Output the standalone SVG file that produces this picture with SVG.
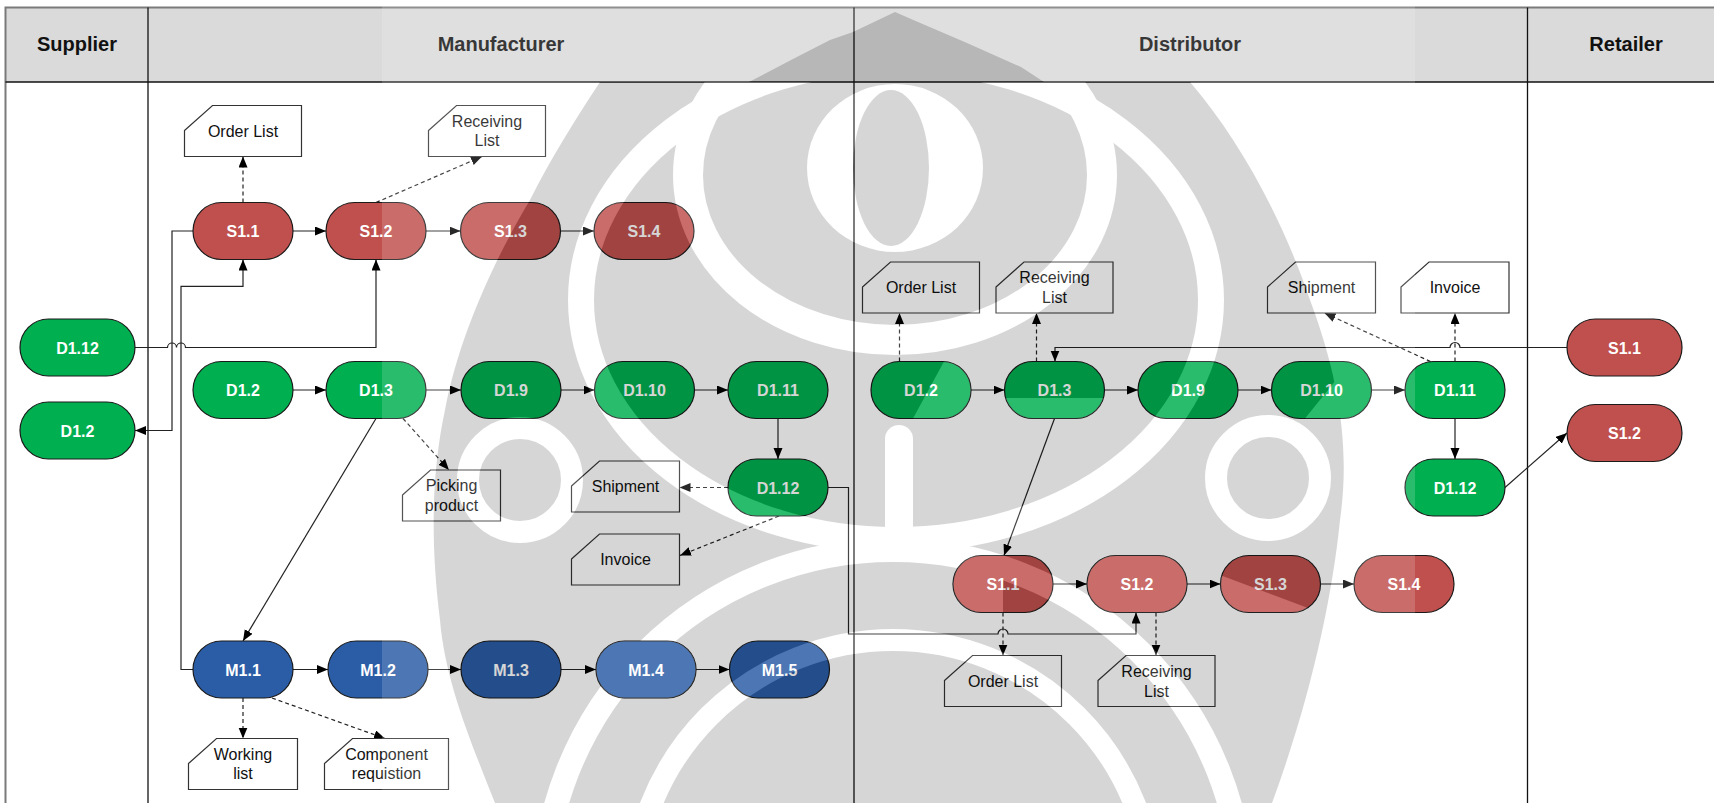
<svg xmlns="http://www.w3.org/2000/svg" width="1714" height="803" viewBox="0 0 1714 803">
  <style>
    .hdr { font-family: "Liberation Sans", Arial, sans-serif; font-size: 20px; font-weight: bold; fill: #111; text-anchor: middle; }
    .pill { stroke: #1a1a1a; stroke-width: 1.2; }
    .red { fill: #C0504D; }
    .green { fill: #00B050; }
    .blue { fill: #2B5DA6; }
    .lbl { font-family: "Liberation Sans", Arial, sans-serif; font-size: 16px; font-weight: bold; fill: #fff; text-anchor: middle; }
    .doc path { fill: #fff; stroke: #333; stroke-width: 1.2; }
    .doc text { font-family: "Liberation Sans", Arial, sans-serif; font-size: 16px; fill: #111; text-anchor: middle; }
    .lane { stroke: #111; stroke-width: 1.3; fill: none; }
    .conn path { fill: none; stroke: #222; stroke-width: 1.2; }
    .conn .dash { stroke-dasharray: 4 3; }
    .ink { fill: #000; }
    .hole { fill: #fff; }
    .band { fill: none; stroke: #fff; }
  </style>
  <defs>
    <marker id="arrow" markerUnits="userSpaceOnUse" markerWidth="12" markerHeight="10" refX="11" refY="4.5" orient="auto">
      <path d="M0,0 L11,4.5 L0,9 Z" fill="#000"/>
    </marker>
    <clipPath id="body-clip"><rect x="0" y="82" width="1714" height="721"/></clipPath>
    <clipPath id="c-dd12"><rect x="871" y="361.5" width="100" height="57" rx="28.5"/></clipPath>
    <clipPath id="c-dd13"><rect x="1004.5" y="361.5" width="100" height="57" rx="28.5"/></clipPath>
    <clipPath id="c-dd110"><rect x="1271.5" y="361.5" width="100" height="57" rx="28.5"/></clipPath>
    <clipPath id="c-ds11"><rect x="953" y="555.5" width="100" height="57" rx="28.5"/></clipPath>
    <clipPath id="c-ds13"><rect x="1220.5" y="555.5" width="100" height="57" rx="28.5"/></clipPath>
  </defs>

  <rect width="1714" height="803" fill="#fff"/>

  <!-- swimlane frame -->
  <g id="lanes">
    <rect x="5.5" y="7.5" width="1720" height="74.5" fill="#DADADA"/>
    <path d="M5.5 803 V7.5 H1714" stroke="#7a7a7a" stroke-width="2" fill="none"/>
    <path class="lane" d="M5.5 82 H1714"/>
    <path class="lane" d="M148 7.5 V803"/>
    <path class="lane" d="M854 7.5 V803"/>
    <path class="lane" d="M1527.5 7.5 V803"/>
    <text class="hdr" x="77" y="51">Supplier</text>
    <text class="hdr" x="501" y="51">Manufacturer</text>
    <text class="hdr" x="1190" y="51">Distributor</text>
    <text class="hdr" x="1626" y="51">Retailer</text>
  </g>

  <!-- connectors -->
  <g id="connectors" class="conn">
    <!-- manufacturer: supply -->
    <path d="M293 231 H326" marker-end="url(#arrow)"/>
    <path d="M426 231 H460.5" marker-end="url(#arrow)"/>
    <path d="M560.5 231 H594" marker-end="url(#arrow)"/>
    <path class="dash" d="M243 202.5 V156.5" marker-end="url(#arrow)"/>
    <path class="dash" d="M376 202.5 L482 156.5" marker-end="url(#arrow)"/>
    <!-- manufacturer: deliver -->
    <path d="M293 390 H326" marker-end="url(#arrow)"/>
    <path d="M426 390 H461" marker-end="url(#arrow)"/>
    <path d="M561 390 H594.5" marker-end="url(#arrow)"/>
    <path d="M694.5 390 H728" marker-end="url(#arrow)"/>
    <path d="M778 418.5 V459" marker-end="url(#arrow)"/>
    <path class="dash" d="M728 487.5 H679.5" marker-end="url(#arrow)"/>
    <path class="dash" d="M779 516 L680 555.5" marker-end="url(#arrow)"/>
    <path d="M376 418.5 L243 641" marker-end="url(#arrow)"/>
    <path class="dash" d="M403 418.5 L449 470" marker-end="url(#arrow)"/>
    <!-- manufacturer: make -->
    <path d="M293 669.5 H328" marker-end="url(#arrow)"/>
    <path d="M428 669.5 H461" marker-end="url(#arrow)"/>
    <path d="M561 669.5 H596" marker-end="url(#arrow)"/>
    <path d="M696 669.5 H729.5" marker-end="url(#arrow)"/>
    <path class="dash" d="M243 698 V738.5" marker-end="url(#arrow)"/>
    <path class="dash" d="M272 698 L385 738.5" marker-end="url(#arrow)"/>
    <!-- links between manufacturer and supplier -->
    <path d="M193 669.5 H181 V286.3 H243 V259.5" marker-end="url(#arrow)"/>
    <path d="M193 231 H172 V430.5 H135" marker-end="url(#arrow)"/>
    <path d="M135 347.5 H167.5 A4.5 4.5 0 0 1 176.5 347.5 A4.5 4.5 0 0 1 185.5 347.5 H376 V259.5" marker-end="url(#arrow)"/>
    <!-- distributor: deliver -->
    <path d="M971 390 H1004.5" marker-end="url(#arrow)"/>
    <path d="M1104.5 390 H1138" marker-end="url(#arrow)"/>
    <path d="M1238 390 H1271.5" marker-end="url(#arrow)"/>
    <path d="M1371.5 390 H1405" marker-end="url(#arrow)"/>
    <path class="dash" d="M899.5 361.5 V313" marker-end="url(#arrow)"/>
    <path class="dash" d="M1036.5 361.5 V313" marker-end="url(#arrow)"/>
    <path class="dash" d="M1430.5 361.5 L1324.5 313" marker-end="url(#arrow)"/>
    <path class="dash" d="M1455 361.5 V313" marker-end="url(#arrow)"/>
    <path d="M1567 347.5 H1460 A5 5 0 0 0 1450 347.5 H1055 V361.5" marker-end="url(#arrow)"/>
    <path d="M1455 418.5 V459" marker-end="url(#arrow)"/>
    <path d="M1505 487.5 L1567 433" marker-end="url(#arrow)"/>
    <path d="M1054.5 418.5 L1004 555.5" marker-end="url(#arrow)"/>
    <!-- distributor: supply -->
    <path d="M1053 584 H1087" marker-end="url(#arrow)"/>
    <path d="M1187 584 H1220.5" marker-end="url(#arrow)"/>
    <path d="M1320.5 584 H1354" marker-end="url(#arrow)"/>
    <path class="dash" d="M1003 612.5 V655.5" marker-end="url(#arrow)"/>
    <path class="dash" d="M1156 612.5 V655.5" marker-end="url(#arrow)"/>
    <path d="M827.5 487.5 H848.5 V634 H998 A5 5 0 0 1 1008 634 H1136 V612.5" marker-end="url(#arrow)"/>
  </g>

  <!-- supplier lane -->
  <g id="sup-d112"><rect class="pill green" x="20" y="319" width="115" height="57" rx="28.5"/><text class="lbl" x="77.5" y="353.5">D1.12</text></g>
  <g id="sup-d12"><rect class="pill green" x="20" y="402" width="115" height="57" rx="28.5"/><text class="lbl" x="77.5" y="436.5">D1.2</text></g>

  <!-- manufacturer lane -->
  <g id="man-s11"><rect class="pill red" x="193" y="202.5" width="100" height="57" rx="28.5"/><text class="lbl" x="243" y="237">S1.1</text></g>
  <g id="man-s12"><rect class="pill red" x="326" y="202.5" width="100" height="57" rx="28.5"/><text class="lbl" x="376" y="237">S1.2</text></g>
  <g id="man-s13"><rect class="pill red" x="460.5" y="202.5" width="100" height="57" rx="28.5"/><text class="lbl" x="510.5" y="237">S1.3</text></g>
  <g id="man-s14"><rect class="pill red" x="594" y="202.5" width="100" height="57" rx="28.5"/><text class="lbl" x="644" y="237">S1.4</text></g>

  <g id="man-d12"><rect class="pill green" x="193" y="361.5" width="100" height="57" rx="28.5"/><text class="lbl" x="243" y="396">D1.2</text></g>
  <g id="man-d13"><rect class="pill green" x="326" y="361.5" width="100" height="57" rx="28.5"/><text class="lbl" x="376" y="396">D1.3</text></g>
  <g id="man-d19"><rect class="pill green" x="461" y="361.5" width="100" height="57" rx="28.5"/><text class="lbl" x="511" y="396">D1.9</text></g>
  <g id="man-d110"><rect class="pill green" x="594.5" y="361.5" width="100" height="57" rx="28.5"/><text class="lbl" x="644.5" y="396">D1.10</text></g>
  <g id="man-d111"><rect class="pill green" x="728" y="361.5" width="100" height="57" rx="28.5"/><text class="lbl" x="778" y="396">D1.11</text></g>
  <g id="man-d112"><rect class="pill green" x="728" y="459" width="100" height="57" rx="28.5"/><text class="lbl" x="778" y="493.5">D1.12</text></g>

  <g id="man-m11"><rect class="pill blue" x="193" y="641" width="100" height="57" rx="28.5"/><text class="lbl" x="243" y="675.5">M1.1</text></g>
  <g id="man-m12"><rect class="pill blue" x="328" y="641" width="100" height="57" rx="28.5"/><text class="lbl" x="378" y="675.5">M1.2</text></g>
  <g id="man-m13"><rect class="pill blue" x="461" y="641" width="100" height="57" rx="28.5"/><text class="lbl" x="511" y="675.5">M1.3</text></g>
  <g id="man-m14"><rect class="pill blue" x="596" y="641" width="100" height="57" rx="28.5"/><text class="lbl" x="646" y="675.5">M1.4</text></g>
  <g id="man-m15"><rect class="pill blue" x="729.5" y="641" width="100" height="57" rx="28.5"/><text class="lbl" x="779.5" y="675.5">M1.5</text></g>

  <!-- manufacturer documents -->
  <g id="man-doc-order" class="doc"><path d="M184.5 130.5 L212.5 105.5 H301.5 V156.5 H184.5 Z"/><text x="243" y="136.5">Order List</text></g>
  <g id="man-doc-recv" class="doc"><path d="M428.5 130.5 L456.5 105.5 H545.5 V156.5 H428.5 Z"/><text x="487" y="126.5">Receiving</text><text x="487" y="146">List</text></g>
  <g id="man-doc-pick" class="doc"><path d="M402.5 495 L430.5 470 H500.5 V521 H402.5 Z"/><text x="451.5" y="491">Picking</text><text x="451.5" y="510.5">product</text></g>
  <g id="man-doc-ship" class="doc"><path d="M571.5 486 L599.5 461 H679.5 V512 H571.5 Z"/><text x="625.5" y="492">Shipment</text></g>
  <g id="man-doc-inv" class="doc"><path d="M571.5 559 L599.5 534 H679.5 V585 H571.5 Z"/><text x="625.5" y="565">Invoice</text></g>
  <g id="man-doc-work" class="doc"><path d="M188.5 763.5 L216.5 738.5 H297.5 V789.5 H188.5 Z"/><text x="243" y="759.5">Working</text><text x="243" y="779">list</text></g>
  <g id="man-doc-comp" class="doc"><path d="M324.5 763.5 L352.5 738.5 H448.5 V789.5 H324.5 Z"/><text x="386.5" y="759.5">Component</text><text x="386.5" y="779">requistion</text></g>

  <!-- distributor lane -->
  <g id="dis-d12"><rect class="pill green" x="871" y="361.5" width="100" height="57" rx="28.5"/><text class="lbl" x="921" y="396">D1.2</text></g>
  <g id="dis-d13"><rect class="pill green" x="1004.5" y="361.5" width="100" height="57" rx="28.5"/><text class="lbl" x="1054.5" y="396">D1.3</text></g>
  <g id="dis-d19"><rect class="pill green" x="1138" y="361.5" width="100" height="57" rx="28.5"/><text class="lbl" x="1188" y="396">D1.9</text></g>
  <g id="dis-d110"><rect class="pill green" x="1271.5" y="361.5" width="100" height="57" rx="28.5"/><text class="lbl" x="1321.5" y="396">D1.10</text></g>
  <g id="dis-d111"><rect class="pill green" x="1405" y="361.5" width="100" height="57" rx="28.5"/><text class="lbl" x="1455" y="396">D1.11</text></g>
  <g id="dis-d112"><rect class="pill green" x="1405" y="459" width="100" height="57" rx="28.5"/><text class="lbl" x="1455" y="493.5">D1.12</text></g>

  <g id="dis-s11"><rect class="pill red" x="953" y="555.5" width="100" height="57" rx="28.5"/><text class="lbl" x="1003" y="590">S1.1</text></g>
  <g id="dis-s12"><rect class="pill red" x="1087" y="555.5" width="100" height="57" rx="28.5"/><text class="lbl" x="1137" y="590">S1.2</text></g>
  <g id="dis-s13"><rect class="pill red" x="1220.5" y="555.5" width="100" height="57" rx="28.5"/><text class="lbl" x="1270.5" y="590">S1.3</text></g>
  <g id="dis-s14"><rect class="pill red" x="1354" y="555.5" width="100" height="57" rx="28.5"/><text class="lbl" x="1404" y="590">S1.4</text></g>

  <!-- distributor documents -->
  <g id="dis-doc-order" class="doc"><path d="M862.5 287 L890.5 262 H979.5 V313 H862.5 Z"/><text x="921" y="293">Order List</text></g>
  <g id="dis-doc-recv" class="doc"><path d="M996 287 L1024 262 H1113 V313 H996 Z"/><text x="1054.5" y="283">Receiving</text><text x="1054.5" y="302.5">List</text></g>
  <g id="dis-doc-ship" class="doc"><path d="M1267.5 287 L1295.5 262 H1375.5 V313 H1267.5 Z"/><text x="1321.5" y="293">Shipment</text></g>
  <g id="dis-doc-inv" class="doc"><path d="M1401 287 L1429 262 H1509 V313 H1401 Z"/><text x="1455" y="293">Invoice</text></g>
  <g id="dis-doc-order2" class="doc"><path d="M944.5 680.5 L972.5 655.5 H1061.5 V706.5 H944.5 Z"/><text x="1003" y="687">Order List</text></g>
  <g id="dis-doc-recv2" class="doc"><path d="M1098 680.5 L1126 655.5 H1215 V706.5 H1098 Z"/><text x="1156.5" y="677">Receiving</text><text x="1156.5" y="696.5">List</text></g>

  <!-- retailer lane -->
  <g id="ret-s11"><rect class="pill red" x="1567" y="319" width="115" height="57" rx="28.5"/><text class="lbl" x="1624.5" y="353.5">S1.1</text></g>
  <g id="ret-s12"><rect class="pill red" x="1567" y="404.5" width="115" height="57" rx="28.5"/><text class="lbl" x="1624.5" y="439">S1.2</text></g>

  <!-- translucent seal laid over the sheet: dark parts tint, light parts wash out -->
  <g id="seal" opacity="0.155">
    <rect class="hole" x="382" y="0" width="1033" height="803"/>
    <polygon class="ink" points="749,82 791,60 830,40 853,32 895,12 918,22 967,43 1021,67 1044,82"/>
    <g clip-path="url(#body-clip)">
      <path class="ink" d="M600 82 H1190 C1240 140 1283 220 1310 300 C1340 380 1350 450 1340 520 C1332 600 1310 700 1272 803 H495 C470 740 445 680 440 620 C430 540 432 470 445 410 C460 330 500 250 530 200 C550 160 575 120 600 82 Z"/>
      <ellipse class="band" cx="896" cy="300" rx="315" ry="240" stroke-width="26"/>
      <ellipse class="band" cx="895" cy="175" rx="207" ry="165" stroke-width="30"/>
      <ellipse class="hole" cx="895" cy="168" rx="88" ry="84"/>
      <ellipse class="ink" cx="891" cy="168" rx="38" ry="78"/>
      <circle class="band" cx="520" cy="480" r="52" stroke-width="22"/>
      <circle class="band" cx="1268" cy="478" r="52" stroke-width="22"/>
      <circle class="band" cx="893" cy="900" r="260" stroke-width="22"/>
      <circle class="band" cx="893" cy="900" r="350" stroke-width="24"/>
      <rect class="hole" x="885" y="425" width="28" height="125" rx="14"/>
      <!-- washed areas kept inside the step outlines -->
      <rect class="hole" x="596" y="641" width="100" height="57" rx="28.5"/>
      <rect class="hole" x="1087" y="555.5" width="100" height="57" rx="28.5"/>
      <rect class="hole" x="953" y="555.5" width="50" height="57" clip-path="url(#c-ds11)"/>
      <rect class="hole" x="1004.5" y="398" width="100" height="21" clip-path="url(#c-dd13)"/>
      <polygon class="hole" points="944,361.5 971,361.5 971,418.5 913,418.5" clip-path="url(#c-dd12)"/>
      <polygon class="hole" points="1351,361.5 1372,361.5 1372,418.5 1305,418.5" clip-path="url(#c-dd110)"/>
      <polygon class="hole" points="1220,575 1320,612.5 1220,612.5" clip-path="url(#c-ds13)"/>
    </g>
  </g>
</svg>
